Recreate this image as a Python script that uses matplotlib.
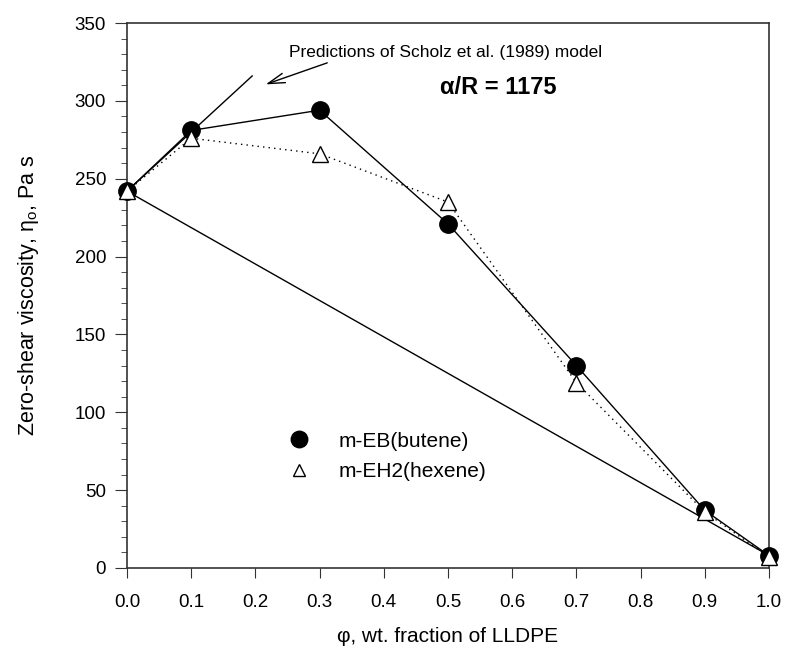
import numpy as np
import matplotlib
matplotlib.use("Agg")
from matplotlib import pyplot as plt
from matplotlib.ticker import MultipleLocator

plt.rcParams['font.family'] = ['Liberation Sans', 'DejaVu Sans']

# Data
phi = [0.0, 0.1, 0.3, 0.5, 0.7, 0.9, 1.0]
eta_eb = [242, 281, 294, 221, 130, 37, 8]       # m-EB(butene)
eta_eh2 = [242, 276, 266, 235, 119, 36, 7]      # m-EH2(hexene)

# Scholz et al. model prediction lines
model_upper_x = [0.0, 0.195]
model_upper_y = [242, 316]
model_lower_x = [0.0, 1.0]
model_lower_y = [242, 8]

fig = plt.figure(figsize=(7.86, 6.48), dpi=100)
ax = fig.add_axes([127/786, 1 - 568/648, (769 - 127)/786, (568 - 23)/648])

ax.plot(model_upper_x, model_upper_y, color='black', lw=1)
ax.plot(model_lower_x, model_lower_y, color='black', lw=1)

h1, = ax.plot(phi, eta_eb, color='black', lw=1, ls='-', marker='o',
              markersize=12.5, markerfacecolor='black', markeredgecolor='black',
              zorder=3, clip_on=False)
h2, = ax.plot(phi, eta_eh2, color='black', lw=1, ls=(0, (1, 3)), marker='^',
              markersize=12, markerfacecolor='white', markeredgecolor='black',
              markeredgewidth=1, zorder=4, clip_on=False)

ax.set_xlim(0, 1.0)
ax.set_ylim(0, 350)
ax.yaxis.set_major_locator(MultipleLocator(50))
ax.yaxis.set_minor_locator(MultipleLocator(10))
xt = np.arange(0, 1.01, 0.1)
ax.set_xticks(xt)
ax.set_xticklabels([f"{v:.1f}" for v in xt])

ax.tick_params(axis='both', which='major', direction='out', labelsize=13.5, color='#333333')
ax.tick_params(axis='y', which='major', length=9, pad=6)
ax.tick_params(axis='x', which='major', length=7, pad=12)
ax.tick_params(axis='y', which='minor', direction='out', length=4.5, color='#333333')
for s in ax.spines.values():
    s.set_color('#333333')
    s.set_linewidth(1.2)

ax.set_xlabel("\u03c6, wt. fraction of LLDPE", fontsize=15, labelpad=11)
ax.set_ylabel("Zero-shear viscosity, $\\mathregular{\\eta_o}$, Pa s", fontsize=15.5, labelpad=24)

ax.text(0.253, 0.945, "Predictions of Scholz et al. (1989) model", transform=ax.transAxes,
        fontsize=12.5, ha='left', va='center')
ax.text(0.4875, 0.881, "\u03b1/R = 1175", transform=ax.transAxes,
        fontsize=17, fontweight='bold', ha='left', va='center')
ax.annotate("", xy=(0.212, 310), xytext=(0.316, 325),
            arrowprops=dict(arrowstyle='->,head_length=1.2,head_width=0.35', color='black', lw=1))

leg = ax.legend([h1, h2], ["m-EB(butene)", "m-EH2(hexene)"],
                loc='center left', bbox_to_anchor=(0.222, 0.205), frameon=False,
                fontsize=15, handlelength=1.0, handletextpad=1.4, labelspacing=0.55,
                markerscale=0.95)
for line in leg.get_lines():
    line.set_linestyle('none')
leg.legend_handles[1].set_markersize(9)

fig.savefig("out.png", dpi=100)
